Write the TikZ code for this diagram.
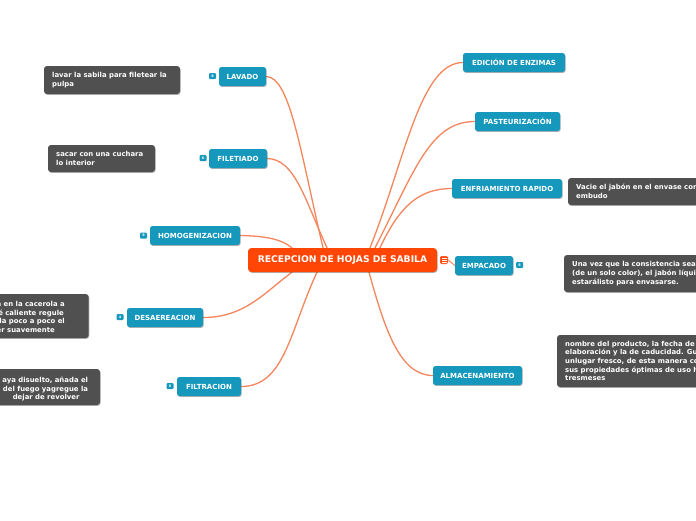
\documentclass[tikz,border=0pt]{standalone}
\usepackage{fontspec}
\setmainfont{DejaVu Sans}
\usetikzlibrary{shadows,backgrounds}
\definecolor{teal1}{RGB}{22,152,188}
\definecolor{notegray}{RGB}{80,80,80}
\definecolor{mainorange}{RGB}{255,70,5}
\definecolor{connc}{RGB}{244,134,94}
\tikzset{
  shad/.style={drop shadow={shadow xshift=.6pt,shadow yshift=-.9pt,opacity=.3,fill=black}},
  topic/.style={shad,fill=teal1,rounded corners=2.5pt,text=white,font=\fontsize{7}{8}\selectfont\bfseries,minimum height=19pt,inner sep=0pt},
  centralbox/.style={shad,fill=mainorange,rounded corners=3.5pt,text=white,font=\fontsize{9.2}{10}\selectfont\bfseries,minimum height=24pt,minimum width=189pt,inner sep=0pt},
  notebox/.style={shad,fill=notegray,rounded corners=3pt,inner sep=0pt},
  notetext/.style={text=white,font=\fontsize{6.9}{8.6}\selectfont\bfseries,align=left,inner sep=0pt},
  badge/.style={fill=teal1,rounded corners=1pt,minimum width=7pt,minimum height=6pt,inner sep=0pt,text=white,font=\fontsize{3.5}{4}\selectfont\bfseries},
  conn/.style={draw=connc,line width=1.3pt,line cap=round},
}
\begin{document}
\begin{tikzpicture}[x=1pt,y=-1pt]
\useasboundingbox (0,0) rectangle (696,520);
\clip (0,0) rectangle (696,520);

% central
\node[centralbox] (c) at (342.5,260) {RECEPCION DE HOJAS DE SABILA};
\node[fill=mainorange,draw=white,line width=.4pt,minimum width=8pt,minimum height=8pt,inner sep=0pt,rounded corners=.8pt] (icon) at (444,260) {};
\draw[white,line width=.6pt] (441.5,257.8) -- (446.5,257.8) (441.5,260) -- (446.5,260) (441.5,262.2) -- (446.5,262.2);

% left topics
\node[topic,minimum width=47pt] (lav) at (242.5,76.5) {LAVADO};
\node[topic,minimum width=58pt] (fil) at (238,158.5) {FILETIADO};
\node[topic,minimum width=90pt] (hom) at (195,235.5) {HOMOGENIZACION};
\node[topic,minimum width=76pt] (des) at (165,317.5) {DESAEREACION};
\node[topic,minimum width=64pt] (ftr) at (209,386.5) {FILTRACION};
% right topics
\node[topic,minimum width=102pt] (edi) at (514,62.5) {EDICIÓN DE ENZIMAS};
\node[topic,minimum width=85pt] (pas) at (517.5,121.5) {PASTEURIZACIÓN};
\node[topic,minimum width=110pt] (enf) at (507,188.5) {ENFRIAMIENTO RAPIDO};
\node[topic,minimum width=58pt] (emp) at (484,265.5) {EMPACADO};
\node[topic,minimum width=89pt] (alm) at (477.5,375.5) {ALMACENAMIENTO};

% badges
\node[badge] (b1) at (212.5,76) {8};
\node[badge] (b2) at (203,158) {6};
\node[badge] (b3) at (143.5,235.5) {9};
\node[badge] (b4) at (120,317) {4};
\node[badge] (b5) at (170,386) {6};
\node[badge] (b6) at (519.5,265) {8};

% notes
\node[notebox,minimum width=136pt,minimum height=28pt] (n1) at (112,80) {};
\node[notetext,anchor=west] (n1t) at (52,80) {lavar la sabila para filetear la\\pulpa};
\node[notebox,minimum width=107pt,minimum height=27pt] (n2) at (101.5,158.5) {};
\node[notetext,anchor=west] (n2t) at (56,158.5) {sacar con una cuchara\\lo interior};

\node[notebox,minimum width=150pt,minimum height=44pt] (n3) at (13.7,316) {};
\node[notetext,anchor=base east] (n3a) at (65,306.5) {a en la cacerola a};
\node[notetext,anchor=base east] (n3b) at (64,315) {é caliente regule};
\node[notetext,anchor=base east] (n3c) at (65,323.6) {da poco a poco el};
\node[notetext,anchor=base east] (n3d) at (55,332) {er suavemente};

\node[notebox,minimum width=160pt,minimum height=36pt] (n4) at (20,387) {};
\node[notetext,anchor=base east] (n4a) at (88.3,382.5) {aya disuelto, añada el};
\node[notetext,anchor=base east] (n4b) at (88.3,391) {e del fuego yagregue la};
\node[notetext,anchor=base east] (n4c) at (79.7,399.5) {dejar de revolver};

\node[notebox,minimum width=160pt,minimum height=27pt] (n5) at (648,191.5) {};
\node[notetext,anchor=west] (n5t) at (576,191.5) {Vacie el jabón en el envase con\\embudo};
\node[notebox,minimum width=160pt,minimum height=37pt] (n6) at (644,273.5) {};
\node[notetext,anchor=west] (n6t) at (572,273.5) {Una vez que la consistencia sea\\(de un solo color), el jabón líquido\\estarálisto para envasarse.};
\node[notebox,minimum width=170pt,minimum height=52pt] (n7) at (642,361) {};
\node[notetext,anchor=west] (n7t) at (565,361) {nombre del producto, la fecha de\\elaboración y la de caducidad. Guarde\\unlugar fresco, de esta manera conserva\\sus propiedades óptimas de uso hasta\\tresmeses};

% connectors
\begin{scope}[on background layer]
\fill[white] (0,0) rectangle (696,520);
\draw[conn] ([xshift=-19.5pt]c.north) .. controls (300,150) and (290,77) .. (lav.east);
\draw[conn] ([xshift=-15.5pt]c.north) .. controls (305,200) and (295,159) .. (fil.east);
\draw[conn] ([xshift=-50.5pt]c.north) .. controls (280,238) and (262,236) .. (hom.east);
\draw[conn] ([xshift=27.5pt]c.north) .. controls (405,160) and (420,63) .. (edi.west);
\draw[conn] ([xshift=32.5pt]c.north) .. controls (415,170) and (430,121.5) .. (pas.west);
\draw[conn] ([xshift=37.5pt]c.north) .. controls (400,205) and (420,188.5) .. (enf.west);
\draw[conn] ([xshift=-50.5pt]c.south) .. controls (265,292) and (245,317.5) .. (des.east);
\draw[conn] ([xshift=-25.5pt]c.south) .. controls (290,330) and (285,386.5) .. (ftr.east);
\draw[conn] ([xshift=26.5pt]c.south) .. controls (385,330) and (400,375.5) .. (alm.west);
\draw[conn,line width=.9pt] (icon.east) .. controls (451,262) .. (emp.west);
\end{scope}
\end{tikzpicture}
\end{document}
